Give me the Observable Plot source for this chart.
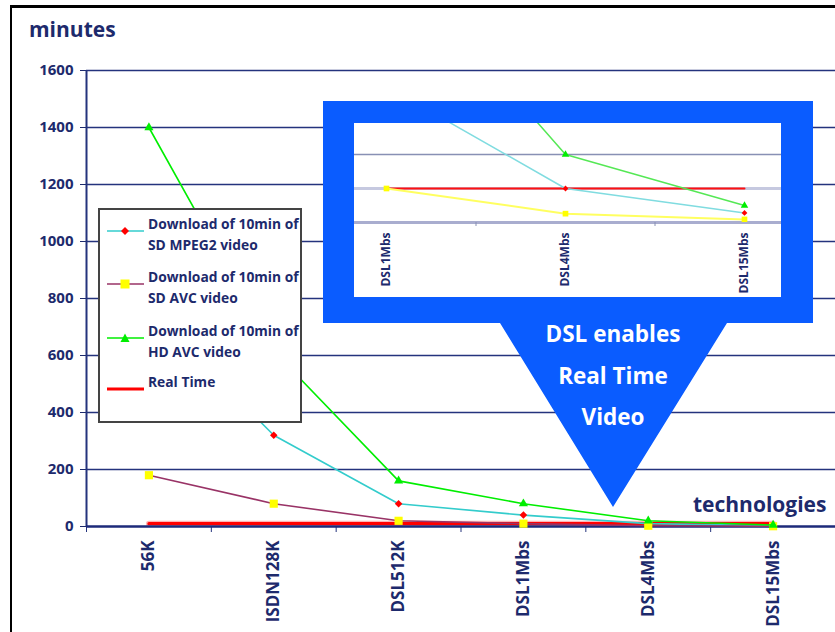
<!DOCTYPE html>
<html><head><meta charset="utf-8">
<script src="https://cdn.jsdelivr.net/npm/d3@7"></script>
<script src="https://cdn.jsdelivr.net/npm/@observablehq/plot@0.6"></script>
<style>
body{margin:0;background:#fff;font-family:"Open Sans",Lato,sans-serif;}
#wrap{position:relative;width:835px;height:632px;overflow:hidden;background:#fff;}
#wrap svg{position:absolute;}
.abs{position:absolute;}
.navy{color:#1d2a6c;font-weight:bold;}
#legend{position:absolute;left:98px;top:208px;width:200px;height:211px;border:2px solid #444;background:#fff;}
.lg{position:absolute;left:48px;font-size:13.8px;line-height:21px;color:#1d2a6c;font-weight:bold;white-space:nowrap;}
.sw{position:absolute;left:7px;}
#callout{position:absolute;left:323px;top:101px;width:490px;height:406px;background:#0a5cff;
 clip-path:polygon(0 0,490px 0,490px 222px,404px 222px,290px 406px,177px 222px,0 222px);}
#insetbox{position:absolute;left:354px;top:123px;width:427px;height:174px;background:#fff;}
.ct{position:absolute;left:513px;width:200px;text-align:center;color:#fff;font-weight:bold;font-size:22.5px;line-height:26px;}
</style></head><body><div id="wrap"></div>
<script>
const categories = ["56K","ISDN128K","DSL512K","DSL1Mbs","DSL4Mbs","DSL15Mbs"];
const sdMpeg2 = [760, 320, 80, 40, 10, 2.8];
const sdAvc = [180, 80, 20, 10, 2.6, 0.9];
const hdAvc = [1400, 615, 160, 80, 20, 5];
const realTime = [10, 10, 10, 10, 10, 10];
const yTicks = [0, 200, 400, 600, 800, 1000, 1200, 1400, 1600];
const legendLabels = [["Download of 10min of","SD MPEG2 video"],["Download of 10min of","SD AVC video"],["Download of 10min of","HD AVC video"],["Real Time"]];
const calloutLines = ["DSL enables","Real Time","Video"];
const yTitle = "minutes";
const xTitle = "technologies";

const navy = "#1d2a6c";
const FONT = "'Open Sans', Lato, sans-serif";
const rows = a => a.map((v,i)=>({i, v, c: categories[i]}));
const rM = rows(sdMpeg2), rA = rows(sdAvc), rH = rows(hdAvc), rR = rows(realTime);

const wrap = document.getElementById("wrap");

const main = Plot.plot({
  width: 835, height: 632, marginLeft: 86, marginRight: 0, marginTop: 70, marginBottom: 106,
  style: {fontFamily: FONT, color: navy, background: "transparent"},
  x: {type: "linear", domain: [-0.5, 5.5], axis: null},
  y: {domain: [0, 1600], axis: null},
  marks: [
    Plot.ruleY(yTicks.filter(d => d > 0), {stroke: "#24337d", strokeWidth: 1.6}),
    Plot.axisY({ticks: yTicks, tickSize: 6, tickPadding: 7, fontSize: 15, fontWeight: "bold", color: navy, label: null, tickFormat: d => String(d)}),
    Plot.ruleX([-0.5], {stroke: "#24337d", strokeWidth: 2}),
    Plot.axisX({ticks: [-0.5, 0.5, 1.5, 2.5, 3.5, 4.5], tickSize: 6, tickFormat: () => "", color: "#24337d", label: null}),
    Plot.axisX({ticks: [0,1,2,3,4,5], tickSize: 0, tickPadding: 14, tickRotate: -90, tickFormat: i => categories[i], fontSize: 17, fontWeight: "bold", color: navy, label: null}),
    Plot.line(rR, {x: "i", y: "v", stroke: "#ffb4b4", strokeWidth: 6}),
    Plot.line(rR, {x: "i", y: "v", stroke: "#ff0000", strokeWidth: 3.2}),
    Plot.ruleY([0], {stroke: "#1d2a7a", strokeWidth: 2.5}),
    Plot.line(rM, {x: "i", y: "v", stroke: "#33cccc", strokeWidth: 1.6}),
    Plot.dot(rM, {x: "i", y: "v", symbol: "diamond2", fill: "#ff0000", r: 3.4}),
    Plot.line(rA, {x: "i", y: "v", stroke: "#993366", strokeWidth: 1.6}),
    Plot.dot(rA, {x: "i", y: "v", symbol: "square", fill: "#ffff00", r: 4.6}),
    Plot.line(rH, {x: "i", y: "v", stroke: "#00ee00", strokeWidth: 1.6}),
    Plot.dot(rH, {x: "i", y: "v", symbol: "triangle", fill: "#00ee00", r: 3.4})
  ]
});
main.style.left = "0px"; main.style.top = "0px";
wrap.appendChild(main);

// frame borders
const tb = document.createElement("div");
tb.className = "abs"; tb.style.cssText = "left:10px;top:5px;width:830px;height:3px;background:#000;";
wrap.appendChild(tb);
const lb = document.createElement("div");
lb.className = "abs"; lb.style.cssText = "left:10px;top:5px;width:2px;height:640px;background:#000;";
wrap.appendChild(lb);

// titles
const yt = document.createElement("div");
yt.className = "abs navy"; yt.style.cssText += "left:29px;top:15px;font-size:21px;";
yt.textContent = yTitle; wrap.appendChild(yt);
const xt = document.createElement("div");
xt.className = "abs navy"; xt.style.cssText += "left:693px;top:490px;font-size:21px;";
xt.textContent = xTitle; wrap.appendChild(xt);

// legend
const leg = document.createElement("div"); leg.id = "legend"; wrap.appendChild(leg);
const legStyles = [
  {line: "#33cccc", mark: "diamond", fill: "#ff0000"},
  {line: "#993366", mark: "square", fill: "#ffff00"},
  {line: "#00ee00", mark: "triangle", fill: "#00ee00"},
  {line: "#ff0000", mark: null, fill: null, w: 3}
];
const legTops = [3, 56, 110, 161];
legendLabels.forEach((lines, k) => {
  const t = legTops[k];
  const d = document.createElement("div"); d.className = "lg"; d.style.top = t + "px";
  d.innerHTML = lines.join("<br>"); leg.appendChild(d);
  const s = legStyles[k];
  let m = "";
  if (s.mark === "diamond") m = `<path d="M18,1 L22,5 L18,9 L14,5Z" fill="${s.fill}"/>`;
  if (s.mark === "square") m = `<rect x="13.5" y="0.5" width="9" height="9" fill="${s.fill}"/>`;
  if (s.mark === "triangle") m = `<path d="M18,0.5 L22.5,9 L13.5,9Z" fill="${s.fill}"/>`;
  const sw = document.createElement("div"); sw.className = "sw"; sw.style.top = (t + 5.5) + "px";
  sw.innerHTML = `<svg width="38" height="10" style="position:static"><line x1="0" x2="37" y1="5" y2="5" stroke="${s.line}" stroke-width="${s.w||1.5}"/>${m}</svg>`;
  leg.appendChild(sw);
});

// callout
const co = document.createElement("div"); co.id = "callout"; wrap.appendChild(co);
const ib = document.createElement("div"); ib.id = "insetbox"; wrap.appendChild(ib);
[321, 363, 404].forEach((top, k) => {
  const d = document.createElement("div"); d.className = "ct"; d.style.top = top + "px";
  d.textContent = calloutLines[k]; wrap.appendChild(d);
});

// inset zoom chart (DSL1Mbs .. DSL15Mbs)
const sub = r => r.filter(d => d.i >= 3);
const inset = Plot.plot({
  width: 427, height: 174, marginLeft: 0, marginRight: 0, marginTop: 0, marginBottom: 75,
  style: {fontFamily: FONT, color: navy, background: "transparent"},
  x: {type: "linear", domain: [3 - 32/179, 3 + 395/179], axis: null},
  y: {domain: [0, 99/3.4], axis: null},
  marks: [
    Plot.ruleY([20], {stroke: "#8890b4", strokeWidth: 1.5}),
    Plot.ruleY([10], {stroke: "#c6c9e0", strokeWidth: 3}),
    Plot.ruleY([0], {stroke: "#a9adcf", strokeWidth: 3}),
    Plot.axisX({ticks: [3.5, 4.5], tickSize: 4, tickFormat: () => "", color: "#8890b4", label: null}),
    Plot.axisX({ticks: [3,4,5], tickSize: 0, tickPadding: 10, tickRotate: -90, tickFormat: i => categories[i], fontSize: 12, fontWeight: "bold", color: navy, label: null}),
    Plot.line(sub(rR), {x: "i", y: "v", stroke: "#ff1010", strokeWidth: 2, clip: true}),
    Plot.line(sub(rM), {x: "i", y: "v", stroke: "#80dce0", strokeWidth: 1.5, clip: true}),
    Plot.line(sub(rA), {x: "i", y: "v", stroke: "#ffff60", strokeWidth: 2, clip: true}),
    Plot.line(sub(rH), {x: "i", y: "v", stroke: "#55e855", strokeWidth: 1.5, clip: true}),
    Plot.dot(sub(rM), {x: "i", y: "v", symbol: "diamond2", fill: "#ff0000", r: 2.6, clip: true}),
    Plot.dot(sub(rA), {x: "i", y: "v", symbol: "square", fill: "#ffff00", r: 3.2, clip: true}),
    Plot.dot(sub(rH), {x: "i", y: "v", symbol: "triangle", fill: "#00ee00", r: 2.8, clip: true})
  ]
});
inset.style.left = "0px"; inset.style.top = "0px";
ib.appendChild(inset);
</script></body></html>
